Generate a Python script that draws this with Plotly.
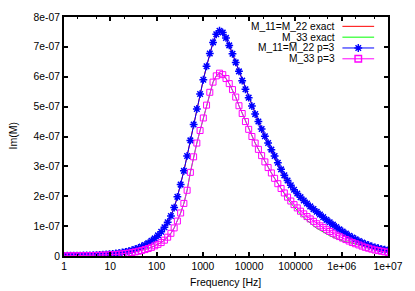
import numpy as np
import plotly.graph_objects as go

# Frequency grid (Hz), 101 log-spaced samples from 1 to 1e7
freq = np.logspace(0, 7, 101)
UNIT = 1e-7

# Im(M) values in units of 1e-7
m11_exact = [
    0.007, 0.008, 0.009, 0.011, 0.012, 0.015, 0.017, 0.020, 0.023, 0.027,
    0.032, 0.038, 0.045, 0.053, 0.062, 0.073, 0.085, 0.10, 0.12, 0.14,
    0.165, 0.195, 0.23, 0.27, 0.32, 0.37, 0.43, 0.51, 0.59, 0.69,
    0.81, 0.96, 1.13, 1.34, 1.62, 1.98, 2.39, 2.85, 3.35, 3.87,
    4.40, 4.92, 5.42, 5.90, 6.35, 6.78, 7.15, 7.42, 7.54, 7.48,
    7.30, 7.05, 6.77, 6.48, 6.18, 5.87, 5.58, 5.30, 5.02, 4.75,
    4.50, 4.25, 4.01, 3.78, 3.56, 3.30, 3.05, 2.80, 2.59, 2.41,
    2.25, 2.11, 1.98, 1.87, 1.77, 1.68, 1.59, 1.51, 1.43, 1.35,
    1.27, 1.19, 1.11, 1.04, 0.96, 0.89, 0.82, 0.75, 0.69, 0.63,
    0.57, 0.52, 0.47, 0.43, 0.39, 0.36, 0.33, 0.30, 0.28, 0.26,
    0.24]

m33_exact = [
    0.004, 0.005, 0.006, 0.007, 0.008, 0.009, 0.011, 0.012, 0.014, 0.017,
    0.020, 0.023, 0.027, 0.032, 0.037, 0.044, 0.051, 0.060, 0.071, 0.084,
    0.099, 0.117, 0.137, 0.16, 0.185, 0.215, 0.25, 0.29, 0.34, 0.39,
    0.45, 0.53, 0.63, 0.76, 0.94, 1.17, 1.44, 1.76, 2.20, 2.80,
    3.32, 3.78, 4.20, 4.62, 5.05, 5.48, 5.82, 6.03, 6.12, 6.07,
    5.94, 5.77, 5.57, 5.32, 5.03, 4.77, 4.50, 4.24, 4.00, 3.78,
    3.57, 3.36, 3.15, 2.96, 2.78, 2.60, 2.42, 2.26, 2.08, 1.92,
    1.77, 1.64, 1.52, 1.40, 1.29, 1.19, 1.10, 1.01, 0.93, 0.86,
    0.80, 0.74, 0.68, 0.63, 0.58, 0.54, 0.50, 0.48, 0.46, 0.43,
    0.40, 0.36, 0.33, 0.29, 0.26, 0.23, 0.20, 0.18, 0.16, 0.14,
    0.12]

m11_p3 = [
    0.007, 0.008, 0.009, 0.011, 0.012, 0.015, 0.017, 0.020, 0.023, 0.027,
    0.032, 0.038, 0.045, 0.053, 0.062, 0.073, 0.085, 0.10, 0.12, 0.14,
    0.165, 0.195, 0.23, 0.27, 0.32, 0.37, 0.43, 0.51, 0.59, 0.69,
    0.81, 0.96, 1.13, 1.34, 1.62, 1.98, 2.39, 2.85, 3.35, 3.87,
    4.40, 4.92, 5.42, 5.90, 6.35, 6.78, 7.15, 7.42, 7.54, 7.48,
    7.30, 7.05, 6.77, 6.48, 6.18, 5.87, 5.58, 5.30, 5.02, 4.75,
    4.50, 4.25, 4.01, 3.78, 3.56, 3.35, 3.12, 2.90, 2.70, 2.53,
    2.37, 2.22, 2.09, 1.97, 1.86, 1.76, 1.66, 1.57, 1.48, 1.39,
    1.30, 1.21, 1.13, 1.05, 0.97, 0.89, 0.82, 0.75, 0.68, 0.62,
    0.56, 0.50, 0.45, 0.40, 0.36, 0.32, 0.29, 0.26, 0.23, 0.21,
    0.19]

m33_p3 = [
    0.004, 0.005, 0.006, 0.007, 0.008, 0.009, 0.011, 0.012, 0.014, 0.017,
    0.020, 0.023, 0.027, 0.032, 0.037, 0.044, 0.051, 0.060, 0.071, 0.084,
    0.099, 0.117, 0.137, 0.16, 0.185, 0.215, 0.25, 0.29, 0.34, 0.39,
    0.45, 0.53, 0.63, 0.76, 0.94, 1.17, 1.44, 1.76, 2.20, 2.80,
    3.32, 3.78, 4.20, 4.62, 5.05, 5.48, 5.82, 6.03, 6.12, 6.07,
    5.94, 5.77, 5.57, 5.32, 5.03, 4.77, 4.50, 4.24, 4.00, 3.78,
    3.57, 3.36, 3.15, 2.96, 2.78, 2.60, 2.42, 2.26, 2.11, 1.97,
    1.84, 1.72, 1.61, 1.50, 1.41, 1.32, 1.24, 1.16, 1.08, 1.01,
    0.95, 0.88, 0.82, 0.76, 0.70, 0.65, 0.60, 0.55, 0.50, 0.45,
    0.41, 0.37, 0.33, 0.29, 0.26, 0.23, 0.20, 0.18, 0.16, 0.14,
    0.12]

series_names = ["M_11=M_22 exact", "M_33 exact", "M_11=M_22 p=3", "M_33 p=3"]

x_tickvals = [1, 10, 100, 1000, 10000, 100000, 1e6, 1e7]
x_ticktext = ["1", "10", "100", "1000", "10000", "100000", "1e+06", "1e+07"]
x_minorvals = [m * d for d in [1, 10, 100, 1000, 10000, 100000, 1e6] for m in (2, 5)]
y_tickvals = [i * 1e-7 for i in range(9)]
y_ticktext = ["0", "1e-07", "2e-07", "3e-07", "4e-07", "5e-07", "6e-07", "7e-07", "8e-07"]

RED, GREEN, BLUE, MAGENTA = "#ff0000", "#00ff00", "#0000ff", "#ff00ff"
FONT = "Liberation Sans, Arial, sans-serif"

def scale(v):
    return [a * UNIT for a in v]

fig = go.Figure()
fig.add_trace(go.Scatter(x=freq, y=scale(m11_exact), mode="lines",
                         line=dict(color=RED, width=1), name=series_names[0]))
fig.add_trace(go.Scatter(x=freq, y=scale(m33_exact), mode="lines",
                         line=dict(color=GREEN, width=1), name=series_names[1]))
fig.add_trace(go.Scatter(x=freq, y=scale(m11_p3), mode="lines+markers",
                         line=dict(color=BLUE, width=1),
                         marker=dict(symbol="asterisk-open", size=6.5, color=BLUE,
                                     line=dict(color=BLUE, width=1.5)),
                         name=series_names[2]))
fig.add_trace(go.Scatter(x=freq, y=scale(m33_p3), mode="lines+markers",
                         line=dict(color=MAGENTA, width=1),
                         marker=dict(symbol="square-open", size=6, color=MAGENTA,
                                     line=dict(color=MAGENTA, width=1)),
                         name=series_names[3]))

# Gnuplot-style legend (right-justified text, sample on the right)
L, R, T, B = 64, 24, 13, 35
W, H = 415, 291
pw, ph = W - L - R, H - T - B
def px(x):
    return (x - L) / pw
def py(y):
    return (T + ph - y) / ph

legend_rows = [22.5, 33.5, 44.5, 55.5]
styles = [
    dict(color=RED, marker=None),
    dict(color=GREEN, marker=None),
    dict(color=BLUE, marker="asterisk-open"),
    dict(color=MAGENTA, marker="square-open"),
]
for name, row, st in zip(series_names, legend_rows, styles):
    fig.add_annotation(x=px(340), y=py(row), xref="paper", yref="paper",
                       text=name, showarrow=False, xanchor="right", yanchor="middle",
                       font=dict(family=FONT, size=10.2, color="black"))
    fig.add_trace(go.Scatter(x=[px(345), px(377)], y=[py(row), py(row)], mode="lines",
                             line=dict(color=st["color"], width=1),
                             xaxis="x2", yaxis="y2", showlegend=False, hoverinfo="skip"))
    if st["marker"]:
        fig.add_trace(go.Scatter(x=[px(361)], y=[py(row)], mode="markers",
                                 marker=dict(symbol=st["marker"], size=6.5, color=st["color"],
                                             line=dict(color=st["color"], width=1.4)),
                                 xaxis="x2", yaxis="y2", showlegend=False, hoverinfo="skip"))

axis_common = dict(showline=True, linecolor="black", linewidth=2, mirror="allticks",
                   ticks="inside", ticklen=4, tickwidth=1.5, tickcolor="black",
                   showgrid=False, zeroline=False,
                   tickfont=dict(family=FONT, size=10.3, color="black"))

fig.update_layout(
    width=W, height=H,
    margin=dict(l=L, r=R, t=T, b=B),
    paper_bgcolor="white", plot_bgcolor="white",
    showlegend=False,
    font=dict(family=FONT, size=10, color="black"),
    xaxis=dict(type="log", range=[0, 7], tickvals=x_tickvals, ticktext=x_ticktext,
               minor=dict(tickmode="array", tickvals=x_minorvals, ticks="inside",
                          ticklen=2, tickwidth=1, tickcolor="black", showgrid=False),
               **axis_common),
    yaxis=dict(range=[0, 8e-7], tickvals=y_tickvals, ticktext=y_ticktext, **axis_common),
    xaxis2=dict(overlaying="x", range=[0, 1], visible=False, fixedrange=True),
    yaxis2=dict(overlaying="y", range=[0, 1], visible=False, fixedrange=True),
)

fig.add_annotation(x=px(13), y=py(134), xref="paper", yref="paper", text="Im(M)",
                   showarrow=False, textangle=-90, xanchor="center", yanchor="middle",
                   font=dict(family=FONT, size=10.5, color="black"))
fig.add_annotation(x=px(227), y=py(282), xref="paper", yref="paper", text="Frequency [Hz]",
                   showarrow=False, xanchor="center", yanchor="middle",
                   font=dict(family=FONT, size=10.5, color="black"))

fig.write_html("out.html", config={"displayModeBar": False},
               post_script="document.body.style.margin='0';document.body.style.padding='0';"
                           "document.body.style.overflow='hidden';")
